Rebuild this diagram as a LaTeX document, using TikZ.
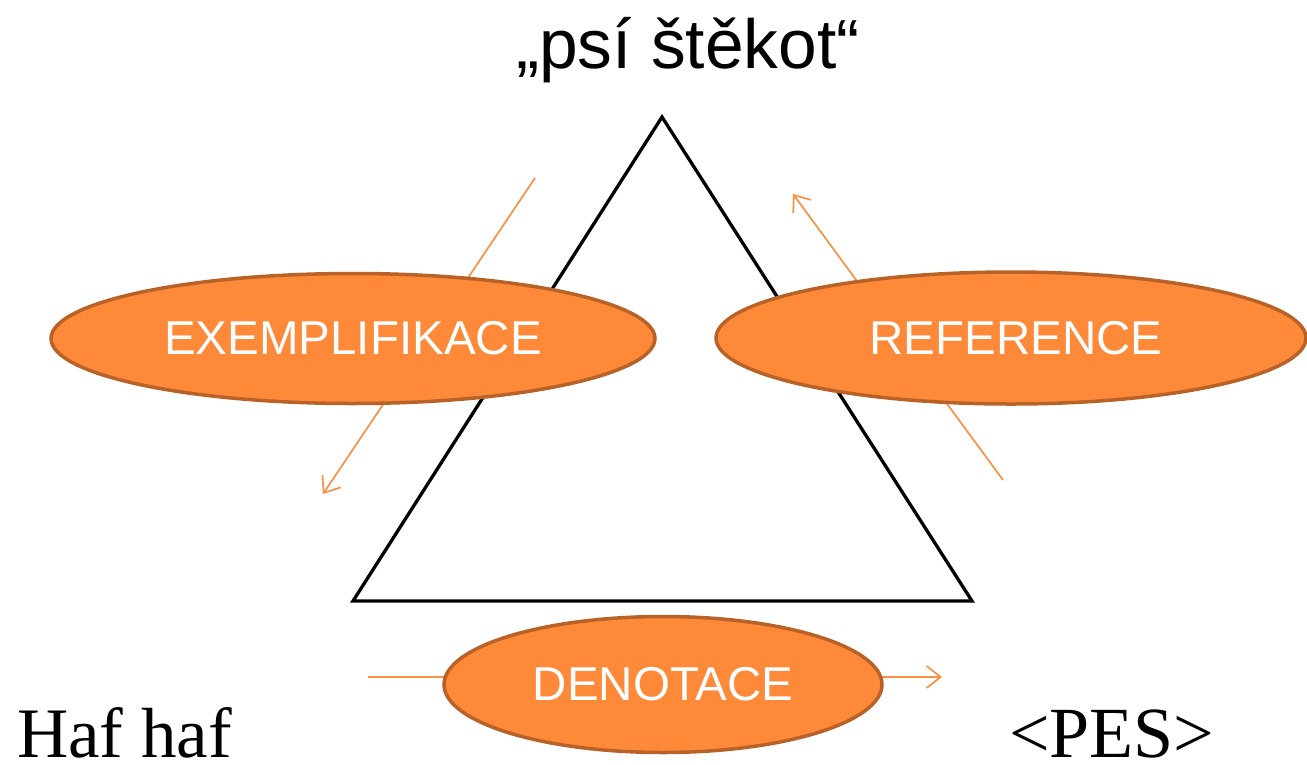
\documentclass[tikz,border=0pt]{standalone}
\usepackage{fontspec}
\setmainfont{Liberation Sans}
\newfontfamily\timesfont{Liberation Serif}
\usetikzlibrary{shapes.geometric,arrows.meta}
\definecolor{ofill}{RGB}{253,137,57}
\definecolor{oborder}{RGB}{185,98,40}
\definecolor{oline}{RGB}{247,145,70}
\tikzset{
  oval/.style={ellipse, draw=oborder, line width=3.5pt, fill=ofill, inner sep=0pt,
    text=white, font=\fontsize{47.5}{50}\selectfont},
  oarrow/.style={draw=oline, line width=1.7pt, -{Straight Barb[length=14pt,width=22pt]}},
  tri/.style={draw=black, line width=3.3pt, line join=miter},
}
\begin{document}
\begin{tikzpicture}[x=1pt,y=-1pt]
\useasboundingbox (0,0) rectangle (1307,764);
% triangle
\coordinate (apex) at (662,117);
\coordinate (bl) at (353,601);
\coordinate (br) at (972,601);
\draw[tri] (apex) -- (bl) -- (br) -- cycle;
% arrows
\coordinate (exS) at (535,178);
\coordinate (exE) at (323,494);
\coordinate (refS) at (1003,480);
\coordinate (refE) at (793,194);
\coordinate (denS) at (368,677);
\coordinate (denE) at (942,677);
\draw[oarrow] (exS) -- (exE);
\draw[oarrow] (refS) -- (refE);
\draw[oarrow] (denS) -- (denE);
% ellipses
\node[oval, minimum width=604pt, minimum height=130pt] (ex) at (353,338.5) {EXEMPLIFIKACE};
\node[oval, minimum width=590pt, minimum height=132pt] (ref) at (1011,338) {\hspace{10pt}REFERENCE};
\node[oval, minimum width=438pt, minimum height=136pt] (den) at (663,684.5) {DENOTACE};
% texts
\node[anchor=base, inner sep=0pt, font=\fontsize{69.5}{72}\selectfont] (title) at (688,68) {„psí štěkot“};
\node[anchor=base west, inner sep=0pt, font=\timesfont\fontsize{71}{72}\selectfont] (haf) at (17,757) {Haf haf};
\node[anchor=base west, inner sep=0pt, font=\timesfont\fontsize{72}{72}\selectfont] (pes) at (1009,757) {<PES>};
\end{tikzpicture}
\end{document}
